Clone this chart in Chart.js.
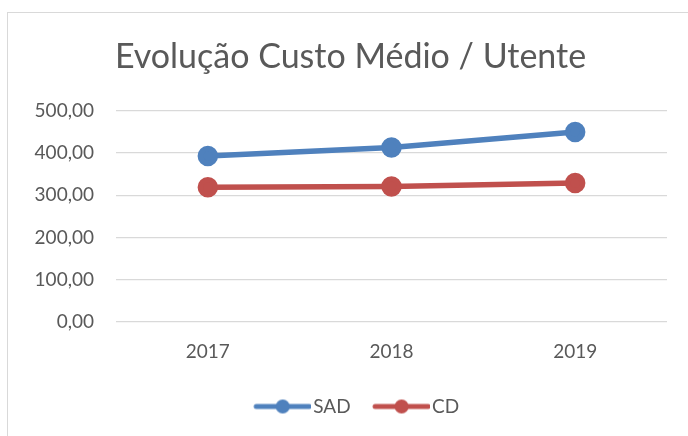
<!DOCTYPE html>
<html>
<head>
<meta charset="utf-8">
<script src="https://cdn.jsdelivr.net/npm/chart.js@4.4.1/dist/chart.umd.min.js"></script>
<style>
  html, body { margin: 0; padding: 0; background: #fff; overflow: hidden; }
  #frame { position: absolute; left: 7px; top: 12px; width: 700px; height: 440px; border: 1px solid #d9d9d9; }
  #wrap { position: absolute; left: 0; top: 0; width: 688px; height: 436px; }
</style>
</head>
<body>
<div id="frame"></div>
<div id="wrap"><canvas id="chart"></canvas></div>
<script>
var years = ["2017", "2018", "2019"];
var sadValues = [393, 413, 450];
var cdValues = [319, 321, 329];
var yTicks = [0, 100, 200, 300, 400, 500];

// legend marker: line with a dot, drawn at the right side of a wider image
function legendMarker(color) {
    var c = document.createElement("canvas");
    c.width = 77; c.height = 16;
    var ctx = c.getContext("2d");
    ctx.strokeStyle = color;
    ctx.lineWidth = 5;
    ctx.lineCap = "round";
    ctx.beginPath();
    ctx.moveTo(22, 8); ctx.lineTo(75, 8);
    ctx.stroke();
    ctx.fillStyle = color;
    ctx.beginPath();
    ctx.arc(48.5, 8, 7, 0, Math.PI * 2);
    ctx.fill();
    return c;
}

var sadColor = "#4f81bd";
var cdColor = "#c0504d";
var font = "Lato, 'Open Sans', sans-serif";

new Chart(document.getElementById("chart").getContext("2d"), {
    type: "line",
    data: {
        labels: years,
        datasets: [
            { label: "SAD", data: sadValues, borderColor: sadColor, backgroundColor: sadColor,
              borderWidth: 5.5, pointRadius: 7.5, pointHoverRadius: 7.5, pointStyle: "circle", tension: 0 },
            { label: "CD", data: cdValues, borderColor: cdColor, backgroundColor: cdColor,
              borderWidth: 5.5, pointRadius: 7.5, pointHoverRadius: 7.5, pointStyle: "circle", tension: 0 }
        ]
    },
    options: {
        responsive: true,
        maintainAspectRatio: false,
        animation: false,
        layout: { padding: { left: 34, right: 21, top: 0, bottom: 10 } },
        plugins: {
            title: {
                display: true,
                text: "Evolução Custo Médio / Utente",
                color: "#595959",
                font: { family: font, size: 34, weight: "normal" },
                padding: { top: 37, bottom: 33 }
            },
            legend: {
                position: "bottom",
                labels: {
                    usePointStyle: true,
                    generateLabels: function (chart) {
                        return chart.data.datasets.map(function (ds, i) {
                            return {
                                text: ds.label,
                                fillStyle: ds.borderColor,
                                strokeStyle: ds.borderColor,
                                fontColor: "#595959",
                                lineWidth: 0,
                                pointStyle: legendMarker(ds.borderColor),
                                datasetIndex: i
                            };
                        });
                    },
                    pointStyleWidth: 62,
                    color: "#595959",
                    font: { family: font, size: 19 },
                    padding: 10
                }
            },
            tooltip: { enabled: false }
        },
        scales: {
            x: {
                offset: true,
                afterFit: function (scale) { scale.height = 65; },
                grid: { display: false, drawTicks: false },
                border: { display: false },
                ticks: { color: "#595959", font: { family: font, size: 19 }, padding: 18 }
            },
            y: {
                min: 0,
                max: 500,
                afterBuildTicks: function (scale) {
                    scale.ticks = yTicks.map(function (v) { return { value: v }; });
                },
                afterFit: function (scale) { scale.width = 82; },
                grid: { color: "#d9d9d9", lineWidth: 1.3, drawTicks: false },
                border: { display: false },
                ticks: {
                    color: "#595959",
                    font: { family: font, size: 19 },
                    padding: 22,
                    callback: function (v) { return v.toFixed(2).replace(".", ","); }
                }
            }
        }
    }
});
</script>
</body>
</html>
